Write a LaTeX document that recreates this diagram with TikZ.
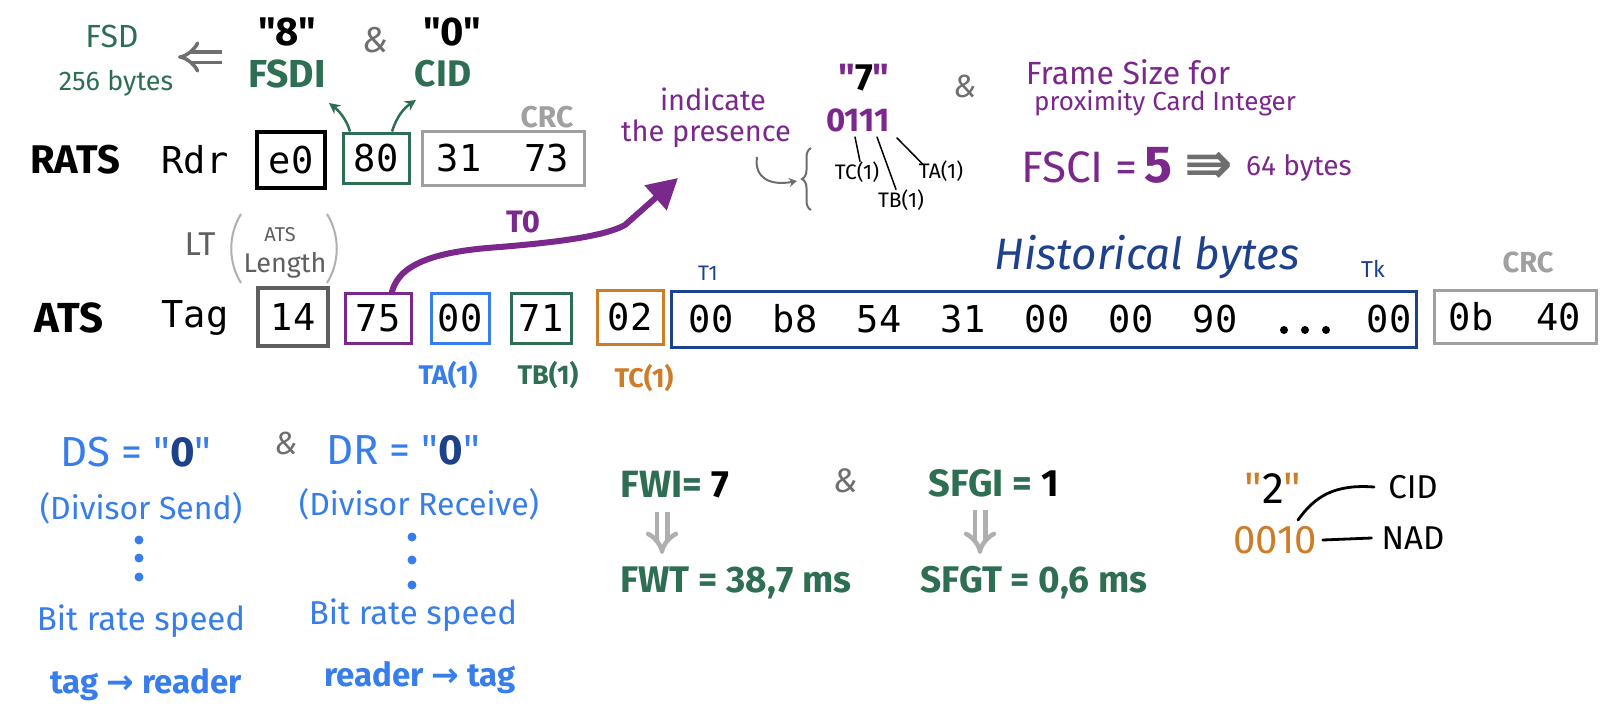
\documentclass[tikz,border=0pt]{standalone}
\usepackage{fontspec}
\setmainfont{Fira Sans}[Ligatures=TeXOff]
\newfontfamily\hexfont{DejaVu Sans Mono}
\newfontfamily\symfont{DejaVu Sans}
\usetikzlibrary{arrows.meta,decorations.pathreplacing}
\definecolor{cgreen}{RGB}{46,110,82}
\definecolor{cpurple}{RGB}{123,40,140}
\definecolor{cblue}{RGB}{55,125,235}
\definecolor{cnavy}{RGB}{30,65,140}
\definecolor{corange}{RGB}{205,125,40}
\definecolor{cgrayA}{RGB}{160,160,160}
\definecolor{cgrayB}{RGB}{95,95,95}
\definecolor{cgrayC}{RGB}{110,110,110}
\definecolor{cgrayD}{RGB}{175,175,175}
\newcommand\hsz[1]{\fontsize{#1}{#1}\selectfont}
\begin{document}
\begin{tikzpicture}[x=1pt,y=-1pt,
  txt/.style={inner sep=0pt, anchor=center},
  hexbox/.style={draw, line width=3pt, inner sep=0pt, font=\hexfont\hsz{37}, text=black},
  hexlbl/.style={inner sep=0pt, font=\hexfont\hsz{37}, text=black},
  dblarrow/.style={line width=3.5pt, double distance=7pt, -{Implies}},
  thinline/.style={line width=1.5pt, line cap=round},
  dot/.style={circle, fill, inner sep=0pt, minimum size=8pt},
]
\fill[white] (0,0) rectangle (1610,724);
\useasboundingbox (0,0) rectangle (1610,724);

% ---------------- top left: RATS ----------------
\node[txt, text=cgreen, font=\hsz{32}] (fsd) at (112,36) {FSD};
\node[txt, text=cgreen, font=\hsz{27}] (fsdbytes) at (116,83) {256 bytes};
\node[txt, font=\bfseries\hsz{40}] (q8) at (287,32) {"8"};
\node[txt, text=cgreen, font=\bfseries\hsz{39}] (fsdi) at (287,74) {FSDI};
\node[txt, text=cgrayC, font=\itshape\hsz{36}] (amp1) at (376,40) {\&};
\node[txt, font=\bfseries\hsz{40}] (q0) at (452,32) {"0"};
\node[txt, text=cgreen, font=\bfseries\hsz{37}] (cid1) at (443,74) {CID};
\coordinate (fsdarrA) at (222,57);
\coordinate (fsdarrB) at (178,57);
\draw[cgrayC, dblarrow] (fsdarrA) -- (fsdarrB);

\node[txt, font=\bfseries\hsz{40}] (rats) at (75,160) {RATS};
\node[txt, font=\hexfont\hsz{37}] (rdr) at (195,160) {Rdr};
\node[hexbox, line width=4pt, minimum width=68pt, minimum height=56pt] (be0) at (291,160) {e0};
\node[hexbox, draw=cgreen, minimum width=66pt, minimum height=50pt] (b80) at (376,158) {80};
\node[hexbox, draw=cgrayA, minimum width=162pt, minimum height=54pt] (bcrc1) at (503,158) {31\hspace{43pt}73};
\node[txt, text=cgrayA, font=\bfseries\hsz{30}] (crc1) at (547,117) {CRC};

\coordinate (ga1) at (329,103);
\coordinate (ga2) at (416,100);
\draw[cgreen, line width=2.5pt, -{Stealth[length=11pt,width=11pt]}] ([xshift=-26pt]b80.north) .. controls (346,118) and (338,110) .. (ga1);
\draw[cgreen, line width=2.5pt, -{Stealth[length=11pt,width=11pt]}] ([xshift=16pt]b80.north) .. controls (397,116) and (404,108) .. (ga2);

% ---------------- T0 explanation ----------------
\node[txt, text=cpurple, font=\hsz{29}] (indicate) at (713,99) {indicate};
\node[txt, text=cpurple, font=\hsz{29}] (presence) at (706,134) {the presence};
\node[txt, font=\bfseries\hsz{38}] (q7) at (864,78) {\textcolor{cpurple}{"}7\textcolor{cpurple}{"}};
\node[txt, text=cpurple, font=\bfseries\hsz{33}] (bits) at (858,120) {0111};
\node[txt, font=\hsz{21}] (tc1s) at (857,172) {TC(1)};
\node[txt, font=\hsz{21}] (tb1s) at (901,200) {TB(1)};
\node[txt, font=\hsz{21}] (ta1s) at (941,171) {TA(1)};
\draw[thinline] (855,137) -- ([xshift=3pt]tc1s.north);
\draw[thinline] (877,137) -- ([xshift=-5pt]tb1s.north);
\draw[thinline] (897,138) -- ([xshift=-18pt,yshift=-4pt]ta1s.north);
\coordinate (braceB) at (811,210);
\coordinate (braceT) at (811,148);
\draw[cgrayC, line width=2pt, decorate, decoration={brace, amplitude=9pt}] (braceB) -- (braceT);
\coordinate (hookS) at (757,157);
\coordinate (hookE) at (797,181);
\draw[cgrayC, line width=2pt, -{Stealth[length=8pt,width=9pt]}] (hookS) .. controls (754,178) and (770,186) .. (hookE);

\node[txt, text=cgrayC, font=\itshape\hsz{32}] (amp2) at (965,86) {\&};
\node[txt, text=cpurple, font=\hsz{32}] (fsline1) at (1128,72) {Frame Size for};
\node[txt, text=cpurple, font=\hsz{26}] (fsline2) at (1165,103) {proximity Card Integer};
\node[txt, text=cpurple, font=\hsz{44}] (fsci) at (1097,165) {FSCI =\,{\bfseries\hsz{52}5}};
\node[txt, text=cgrayC, font=\symfont\bfseries\hsz{58}] (triarr) at (1209,168) {⇛};
\node[txt, text=cpurple, font=\hsz{28}, anchor=west] (b64) at (1246,168) {64 bytes};

% ---------------- ATS row ----------------
\node[txt, font=\bfseries\hsz{42}] (ats) at (69,318) {ATS};
\node[txt, font=\hexfont\hsz{37}] (tag) at (195,318) {Tag};
\node[hexbox, draw=cgrayB, line width=4pt, minimum width=70pt, minimum height=58pt] (b14) at (293,317) {14};
\node[hexbox, draw=cpurple, minimum width=66pt, minimum height=50pt] (b75) at (378,318) {75};
\node[hexbox, draw=cblue, minimum width=58pt, minimum height=50pt] (b00) at (460,318) {00};
\node[hexbox, draw=cgreen, minimum width=60pt, minimum height=50pt] (b71) at (541,318) {71};
\node[hexbox, draw=corange, minimum width=66pt, minimum height=54pt] (b02) at (630,317) {02};
\node[hexbox, draw=cnavy, minimum width=745pt, minimum height=56pt] (bhist) at (1044,319) {};
\node[hexbox, draw=cgrayA, minimum width=162pt, minimum height=53pt] (bcrc2) at (1515,317) {0b\hspace{43pt}40};

\node[hexlbl] (h1) at (711,319) {00};
\node[hexlbl] (h2) at (795,319) {b8};
\node[hexlbl] (h3) at (879,319) {54};
\node[hexlbl] (h4) at (963,319) {31};
\node[hexlbl] (h5) at (1047,319) {00};
\node[hexlbl] (h6) at (1131,319) {00};
\node[hexlbl] (h7) at (1215,319) {90};
\node[dot] (d1) at (1284,330) {};
\node[dot] (d2) at (1305,330) {};
\node[dot] (d3) at (1326,330) {};
\node[hexlbl] (hk) at (1389,319) {00};

\node[txt, text=cgrayB, font=\hsz{33}] (lt) at (200,244) {LT};
\node[txt, text=cgrayB, font=\hsz{20}] (ltats) at (280,235) {ATS};
\node[txt, text=cgrayB, font=\hsz{27}] (ltlen) at (285,265) {Length};
\draw[cgrayD, line width=2pt] (241,214) .. controls (228,235) and (228,262) .. (241,283);
\draw[cgrayD, line width=2pt] (327,214) .. controls (340,235) and (340,262) .. (327,283);

\node[txt, text=cpurple, font=\bfseries\hsz{31}] (t0) at (523,222) {T0};
\coordinate (t0tip) at (678,178);
\draw[cpurple, line width=6pt, line cap=round, -{Triangle[length=30pt,width=32pt]}] ([xshift=14pt]b75.north) .. controls (400,262) and (440,251) .. (500,247) .. controls (560,242) and (605,236) .. (625,225) -- (t0tip);

\node[txt, text=cnavy, font=\hsz{21}] (t1) at (708,273) {T1};
\node[txt, text=cnavy, font=\hsz{23}] (tk) at (1373,269) {Tk};
\node[txt, text=cnavy, font=\itshape\hsz{44}] (hist) at (1147,257) {Historical bytes};
\node[txt, text=cgrayA, font=\bfseries\hsz{29}] (crc2) at (1528,262) {CRC};

\node[txt, text=cblue, font=\bfseries\hsz{27}] (ta1) at (448,375) {TA(1)};
\node[txt, text=cgreen, font=\bfseries\hsz{27}] (tb1) at (548,375) {TB(1)};
\node[txt, text=corange, font=\bfseries\hsz{27}] (tc1) at (644,378) {TC(1)};

% ---------------- bottom left: DS / DR ----------------
\node[txt, text=cblue, font=\hsz{42}] (ds) at (136,452) {DS = "\textcolor{cnavy}{\bfseries 0}"};
\node[txt, text=cgrayC, font=\itshape\hsz{32}] (amp3) at (286,443) {\&};
\node[txt, text=cblue, font=\hsz{42}] (dr) at (403,450) {DR = "\textcolor{cnavy}{\bfseries 0}"};
\node[txt, text=cblue, font=\hsz{32}] (dsdesc) at (141,508) {(Divisor Send)};
\node[txt, text=cblue, font=\hsz{32}] (drdesc) at (419,504) {(Divisor Receive)};
\node[dot, fill=cblue, minimum size=9pt] (ld1) at (139,540) {};
\node[dot, fill=cblue, minimum size=9pt] (ld2) at (139,558) {};
\node[dot, fill=cblue, minimum size=9pt] (ld3) at (139,577) {};
\node[dot, fill=cblue, minimum size=9pt] (rd1) at (412,537) {};
\node[dot, fill=cblue, minimum size=9pt] (rd2) at (412,560) {};
\node[dot, fill=cblue, minimum size=9pt] (rd3) at (412,585) {};
\node[txt, text=cblue, font=\hsz{33}] (brl) at (141,621) {Bit rate speed};
\node[txt, text=cblue, font=\bfseries\hsz{33}] (tr) at (146,685) {tag {\symfont\bfseries →} reader};
\node[txt, text=cblue, font=\hsz{33}] (brr) at (413,615) {Bit rate speed};
\node[txt, text=cblue, font=\bfseries\hsz{33}] (rt) at (420,678) {reader {\symfont\bfseries →} tag};

% ---------------- FWI / SFGI ----------------
\node[txt, text=cgreen, font=\bfseries\hsz{38}] (fwi) at (675,485) {FWI= \textcolor{black}{7}};
\node[txt, text=cgrayC, font=\itshape\hsz{34}] (amp4) at (846,481) {\&};
\node[txt, text=cgreen, font=\bfseries\hsz{38}] (sfgi) at (994,483) {SFGI = \textcolor{black}{1}};
\node[txt, text=cgreen, font=\bfseries\hsz{37}] (fwt) at (736,583) {FWT = 38,7 ms};
\node[txt, text=cgreen, font=\bfseries\hsz{37}] (sfgt) at (1034,583) {SFGT = 0,6 ms};
\coordinate (fa1) at (662,512);
\coordinate (fa2) at (662,554);
\coordinate (sa1) at (980,510);
\coordinate (sa2) at (980,554);
\draw[cgrayD, line width=4.5pt, double distance=6pt, -{Implies}] (fa1) -- (fa2);
\draw[cgrayD, line width=4.5pt, double distance=6pt, -{Implies}] (sa1) -- (sa2);

% ---------------- TC(1) = 02 ----------------
\node[txt, font=\hsz{44}] (q2) at (1273,488) {\textcolor{corange}{"}2\textcolor{corange}{"}};
\node[txt, text=corange, font=\hsz{40}] (b0010) at (1275,540) {0010};
\node[txt, font=\hsz{33}] (cid2) at (1413,487) {CID};
\node[txt, font=\hsz{33}] (nad) at (1413,538) {NAD};
\draw[line width=2.8pt, line cap=round] (1298,520) .. controls (1315,496) and (1335,484) .. ([xshift=-14pt]cid2.west);
\draw[line width=2.8pt, line cap=round] ([xshift=6pt]b0010.east) -- ([xshift=-10pt]nad.west);
\end{tikzpicture}
\end{document}
